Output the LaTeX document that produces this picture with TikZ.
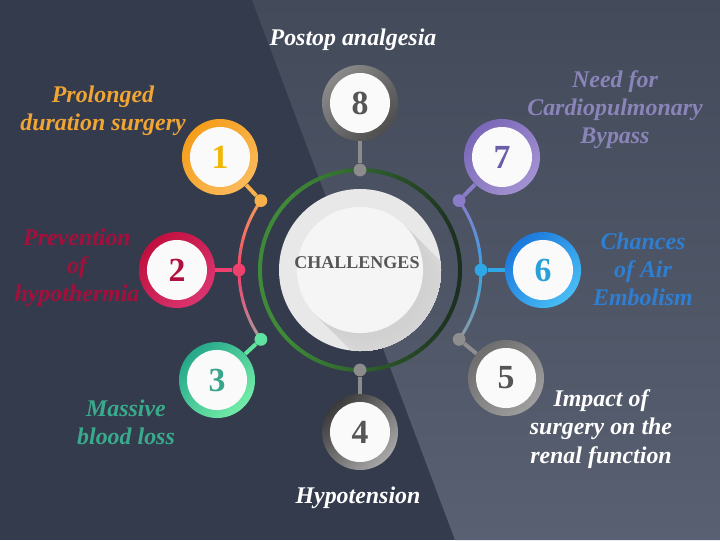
\documentclass[tikz,border=0pt]{standalone}
\usepackage{fontspec}
\setmainfont{Liberation Serif}
\usetikzlibrary{positioning,calc}

\definecolor{bgdark}{HTML}{343B4C}
\definecolor{bgtop}{HTML}{434A5A}
\definecolor{bgbot}{HTML}{586071}
\definecolor{ra1}{HTML}{F59E1C}\definecolor{rb1}{HTML}{FBBA5A}\definecolor{tx1}{HTML}{F2B705}\definecolor{dt1}{HTML}{F7B04A}
\definecolor{ra2}{HTML}{C0103E}\definecolor{rb2}{HTML}{DA3470}\definecolor{tx2}{HTML}{B0103E}\definecolor{dt2}{HTML}{F0406E}
\definecolor{ra3}{HTML}{26A88A}\definecolor{rb3}{HTML}{74EDA8}\definecolor{tx3}{HTML}{3AA58A}\definecolor{dt3}{HTML}{5FE3A0}
\definecolor{ra4}{HTML}{3A3A3A}\definecolor{rb4}{HTML}{A8A8A8}\definecolor{tx4}{HTML}{555555}\definecolor{dt4}{HTML}{8C8C8C}
\definecolor{ra5}{HTML}{6E6E6E}\definecolor{rb5}{HTML}{9E9E9E}\definecolor{tx5}{HTML}{555555}\definecolor{dt5}{HTML}{8E8E8E}
\definecolor{ra6}{HTML}{1C78DC}\definecolor{rb6}{HTML}{48BDF5}\definecolor{tx6}{HTML}{2AA0D8}\definecolor{dt6}{HTML}{2FA6E6}
\definecolor{ra7}{HTML}{7A68B8}\definecolor{rb7}{HTML}{A392D2}\definecolor{tx7}{HTML}{6B5EA8}\definecolor{dt7}{HTML}{8A7CC8}
\definecolor{ra8}{HTML}{8A8A8A}\definecolor{rb8}{HTML}{4E4E4E}\definecolor{tx8}{HTML}{555555}\definecolor{dt8}{HTML}{8C8C8C}
\definecolor{arcA}{HTML}{F39A5A}\definecolor{arcB}{HTML}{A8A0A0}
\definecolor{arcC}{HTML}{8A7CC8}\definecolor{arcD}{HTML}{8C9AA6}
\definecolor{ringg}{HTML}{3F8A38}\definecolor{ringd}{HTML}{1A2A1E}
\definecolor{hubo}{HTML}{E8E8E8}\definecolor{hubsh}{HTML}{D0D0D0}
\definecolor{hubi}{HTML}{F5F5F5}\definecolor{hubt}{HTML}{555555}
\definecolor{lb1}{HTML}{F0A535}\definecolor{lb2}{HTML}{A50F3C}\definecolor{lb3}{HTML}{3AAA8C}
\definecolor{lb6}{HTML}{2E7ED2}\definecolor{lb7}{HTML}{8A84B8}

\tikzset{
  bub/.style={circle,minimum size=1.9cm,inner sep=0pt,top color=ra#1,bottom color=rb#1,shading angle=45,
    text=tx#1,font=\bfseries\fontsize{24}{24}\selectfont,
    path picture={\fill[white!96!gray] (path picture bounding box.center) circle (0.75cm);}},
  knob/.style={circle,fill=dt#1,minimum size=0.32cm,inner sep=0pt},
  stem/.style={line width=0.1cm,draw=dt#1},
  lbl/.style={align=center,font=\bfseries\itshape\fontsize{17}{20}\selectfont},
}

\begin{document}
\begin{tikzpicture}[x=0.025cm,y=0.025cm]
  \useasboundingbox (-360,-270) rectangle (360,270);
  \fill[bgdark] (-360,-270) rectangle (360,270);
  \shade[top color=bgtop,bottom color=bgbot] (-108,270) -- (360,270) -- (360,-270) -- (95,-270) -- cycle;

  % side arcs
  \foreach \a in {145,150,...,175}{
    \pgfmathtruncatemacro\p{100-(\a-145)/35*100}
    \draw[line width=0.075cm,line cap=round,arcA!\p!dt2] (\a:121) arc[start angle=\a,end angle=\a+5,radius=121];
  }
  \foreach \a in {180,185,...,210}{
    \pgfmathtruncatemacro\p{100-(\a-180)/35*100}
    \draw[line width=0.075cm,line cap=round,dt2!\p!arcB] (\a:121) arc[start angle=\a,end angle=\a+5,radius=121];
  }
  \foreach \a in {30,25,...,0}{
    \pgfmathtruncatemacro\p{(\a+5)/35*100}
    \draw[line width=0.075cm,line cap=round,arcC!\p!dt6] (\a:121) arc[start angle=\a,end angle=\a+5,radius=121];
  }
  \foreach \a in {-5,-10,...,-35}{
    \pgfmathtruncatemacro\p{100+\a/35*100}
    \draw[line width=0.075cm,line cap=round,dt6!\p!arcD] (\a:121) arc[start angle=\a,end angle=\a+5,radius=121];
  }

  % green ring
  \foreach \a in {0,4,...,356}{
    \pgfmathtruncatemacro\p{min(100,max(0,60-55*cos(\a+2)))}
    \draw[line width=0.1cm,line cap=round,ringg!\p!ringd] (\a:100) arc[start angle=\a,end angle=\a+4,radius=100];
  }

  % hub
  \fill[hubo] (0,0) circle (81);
  \begin{scope}
    \clip (0,0) circle (81);
    \foreach \s in {40,39,...,1}{
      \pgfmathtruncatemacro\p{100-2*\s}
      \fill[hubsh!\p!hubo] (1.5*\s,-1.5*\s) circle (63);
    }
  \end{scope}
  \node[circle,fill=hubi,minimum size=3.15cm,inner sep=0pt] (hub) at (0,0) {};
  \node[text=hubt,font=\bfseries\fontsize{12.8}{14}\selectfont] (hubtxt) at (-3,7) {CHALLENGES};

  \foreach \n/\a/\r in {1/145/121,2/180/121,3/215/121,7/35/121,6/0/121,5/-35/121,8/90/100,4/270/100}
    \node[knob=\n] (d\n) at (\a:\r) {};

  \foreach \n/\x/\y in {1/-140/113,2/-183/0,3/-143/-110,4/0/-162,5/146/-108,6/183/0,7/142/113,8/0/167}
    \node[bub=\n] (c\n) at (\x,\y) {\n};

  \foreach \n in {1,...,8}
    \draw[stem=\n] (c\n) -- (d\n);

  \node[lbl,text=white] (post) at (-7,230) {Postop analgesia};
  \node[lbl,text=lb1] (prol) at (-257,159) {Prolonged\\duration surgery};
  \node[lbl,text=lb2] (prev) at (-283,2) {Prevention\\of\\hypothermia};
  \node[lbl,text=lb3] (mass) at (-234,-152) {Massive\\blood loss};
  \node[lbl,text=white] (hypo) at (-2,-228) {Hypotension};
  \node[lbl,text=white] (imp) at (241,-159) {Impact of\\surgery on the\\renal function};
  \node[lbl,text=lb6] (chan) at (283,1) {Chances\\of Air\\Embolism};
  \node[lbl,text=lb7] (need) at (255,160) {Need for\\Cardiopulmonary\\Bypass};
\end{tikzpicture}
\end{document}
